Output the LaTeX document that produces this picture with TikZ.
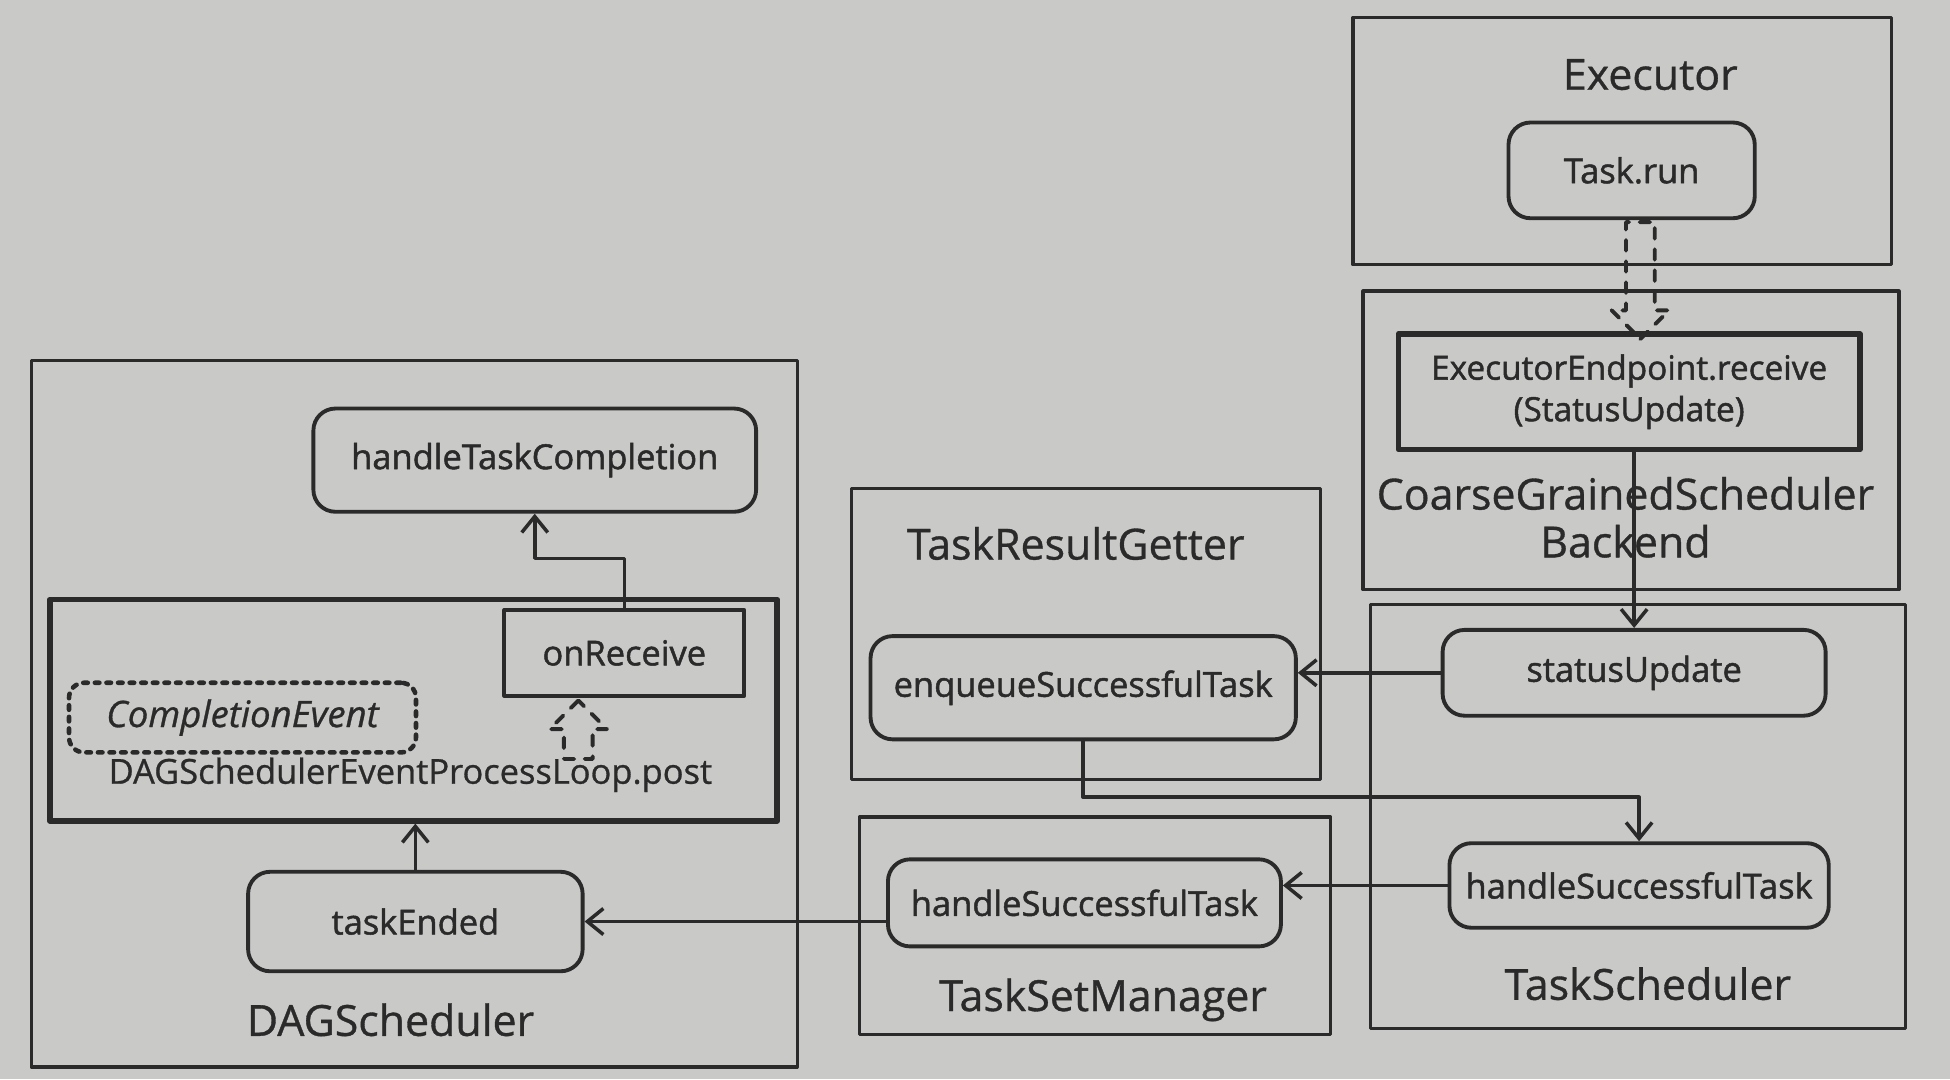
\documentclass[tikz,border=0pt]{standalone}
\usepackage{fontspec}
\setmainfont{Open Sans}[FakeBold=0.8]
\newfontfamily\semi{Open Sans}[FakeBold=1.4]
\usetikzlibrary{positioning,fit,shapes.arrows,arrows.meta}
\definecolor{paper}{RGB}{201,201,199}
\definecolor{ink}{RGB}{42,42,42}
\newlength\px
\setlength\px{0.12436mm}
\begin{document}
\begin{tikzpicture}[x=0.12436mm, y=-0.12436mm, line cap=round, line join=round, >={Straight Barb[length=1.6mm,width=2.6mm]}, font=\semi\fontsize{9.8}{11}\selectfont, color=ink]
				\tikzset{frame/.style={draw=ink, line width=0.9pt, inner sep=0pt},
					title/.style={font=\normalfont\fontsize{12.2}{13.6}\selectfont, align=center},
					task/.style={draw=ink, line width=1.1pt, rounded corners=2.2mm, inner sep=0pt},
					plainbox/.style={draw=ink, line width=1.1pt, inner sep=0pt},
					dasharrow/.style={single arrow, draw=ink, dashed, line width=1.1pt, inner sep=10\px, single arrow head extend=11.5\px},
					link/.style={draw=ink, line width=1pt, ->}}
				\fill[paper] (0,0) rectangle (1568,868);
				\useasboundingbox (0,0) rectangle (1568,868);
				% containers
				\node[frame, fit={(1088,14) (1521,213)}] (executor) {};
				\node[frame, fit={(1096,234) (1527,474)}] (backend) {};
				\node[frame, fit={(1102,486) (1532,827)}] (scheduler) {};
				\node[frame, fit={(685,393) (1062,627)}] (getter) {};
				\node[frame, fit={(691,657) (1070,832)}] (setmanager) {};
				\node[frame, fit={(25,290) (641,858)}] (dag) {};
				\node[frame, line width=1.6pt, fit={(40,482) (625,660)}] (loop) {};
				\node[title] (executorlabel) at (1327,60) {Executor};
				\node[title] (backendlabel) at (1307,416) {CoarseGrainedScheduler\\Backend};
				\node[title] (schedulerlabel) at (1325,791) {TaskScheduler};
				\node[title] (getterlabel) at (865,437) {TaskResultGetter};
				\node[title] (setmanagerlabel) at (887,804) {TaskSetManager};
				\node[title] (daglabel) at (314,820) {DAGScheduler};
				% methods
				\node[task, minimum width=198\px, minimum height=77\px] (taskrun) at (1312,137) {Task.run};
				\node[plainbox, line width=1.6pt, minimum width=371\px, minimum height=93\px, align=center, font=\semi\fontsize{9.5}{11.8}\selectfont] (endpoint) at (1310,315) {ExecutorEndpoint.receive\\(StatusUpdate)};
				\node[task, minimum width=308\px, minimum height=69\px] (statusupdate) at (1314,541) {statusUpdate};
				\node[task, minimum width=305\px, minimum height=68\px] (tshandle) at (1318,712) {handleSuccessfulTask};
				\node[task, minimum width=342\px, minimum height=83\px] (enqueue) at (871,553) {enqueueSuccessfulTask};
				\node[task, minimum width=316\px, minimum height=70\px] (tsmhandle) at (872,726) {handleSuccessfulTask};
				\node[task, minimum width=269\px, minimum height=80\px] (taskended) at (334,741) {taskEnded};
				\node[task, minimum width=356\px, minimum height=83\px] (completion) at (430,370) {handleTaskCompletion};
				\node[plainbox, minimum width=193\px, minimum height=69\px] (onreceive) at (502,525) {onReceive};
				\node[draw=ink, dotted, line width=1.3pt, rounded corners=1.5mm, minimum width=279\px, minimum height=56\px, font=\normalfont\fontsize{10.4}{11}\itshape] (event) at (195,577) {CompletionEvent};
				\node[font=\normalfont\fontsize{9.8}{11}\selectfont] (postlabel) at (330,623) {DAGSchedulerEventProcessLoop.post};
				% flow
				\node[dasharrow, shape border rotate=270, minimum height=94\px, anchor=tail] (runarrow) at ([xshift=7\px]taskrun.south) {};
				\node[dasharrow, shape border rotate=90, minimum height=47\px, anchor=tip] (postarrow) at ([xshift=-37\px]onreceive.south) {};
				\draw[link] (statusupdate.north |- endpoint.south) -- (statusupdate.north);
				\draw[link] (statusupdate.west) -- (statusupdate.west -| enqueue.east);
				\draw[link] (enqueue.south) -- ++(0,45) -| (tshandle.north);
				\draw[link] (tshandle.west) -- (tshandle.west -| tsmhandle.east);
				\draw[link] (tsmhandle.west |- taskended.east) -- (taskended.east);
				\draw[link] (taskended.north) -- (taskended.north |- loop.south);
				\draw[link] (onreceive.north) -- ++(0,-40) -| (completion.south);
			\end{tikzpicture}
\end{document}
